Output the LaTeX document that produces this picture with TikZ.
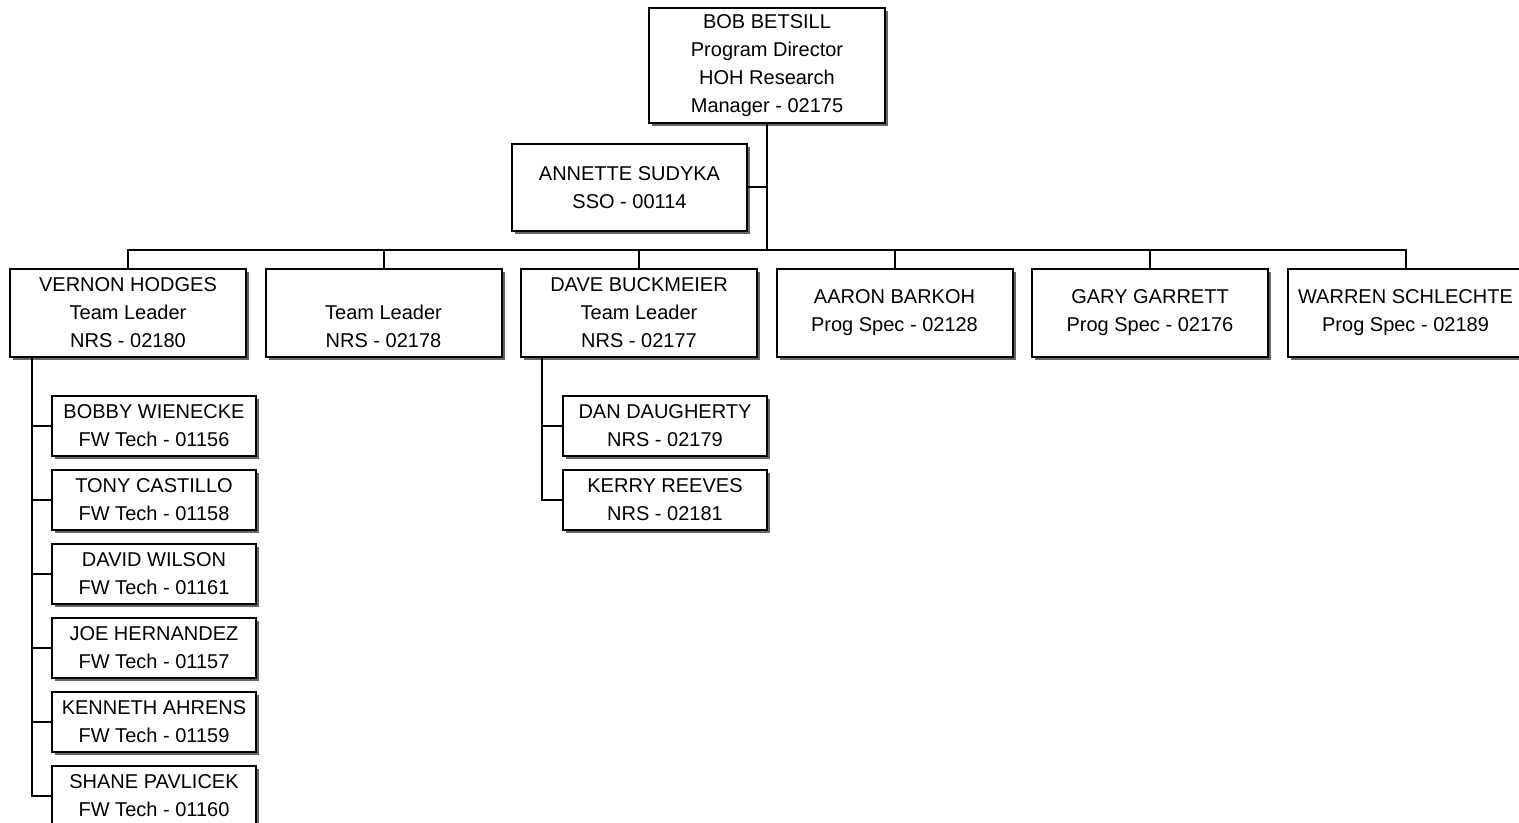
\documentclass[tikz,border=0pt]{standalone}
\usepackage{fontspec}
\setmainfont{Liberation Sans}
\usetikzlibrary{positioning, shadows}
\tikzset{
    person/.style={
           rectangle,
           draw=black, line width=1pt,
           fill=white,
           drop shadow={shadow xshift=1.5pt, shadow yshift=-1.5pt, fill=black!60, opacity=1},
           minimum width=118pt,
           minimum height=44pt,
           inner sep=2pt,
           align=center,
           font=\fontsize{10}{14}\selectfont,
           },
    staff/.style={person, minimum width=102pt, minimum height=30pt},
}

\begin{document}
\begin{tikzpicture}[x=0.5pt, y=-0.5pt, node distance=127.75pt, line width=1pt]
  \useasboundingbox (0,0) rectangle (1519,823);

  \node[person, minimum height=57.5pt]                       (Betsill)  at (767,65.5)  {BOB BETSILL\\Program Director\\HOH Research\\Manager - 02175};
  \node[person, minimum width=117.5pt, minimum height=43.5pt] (Sudyka)   at (629.5,187.5) {ANNETTE SUDYKA\\SSO - 00114};

  \node[person]                                              (Hodges)   at (128,313)   {VERNON HODGES\\Team Leader\\NRS - 02180};
  \node[person, right of=Hodges]                             (Vacant)   {\vphantom{V}\\Team Leader\\NRS - 02178};
  \node[person, right of=Vacant]                             (Buckmeier) {DAVE BUCKMEIER\\Team Leader\\NRS - 02177};
  \node[person, right of=Buckmeier]                          (Barkoh)   {AARON BARKOH\\Prog Spec - 02128};
  \node[person, right of=Barkoh]                             (Garrett)  {GARY GARRETT\\Prog Spec - 02176};
  \node[person, right of=Garrett]                            (Schlechte) {WARREN SCHLECHTE\\Prog Spec - 02189};

  \begin{scope}[node distance=37pt]
    \node[staff, below of=Hodges, xshift=13pt, node distance=56.5pt] (Wienecke) {BOBBY WIENECKE\\FW Tech - 01156};
    \node[staff, below of=Wienecke]                          (Castillo) {TONY CASTILLO\\FW Tech - 01158};
    \node[staff, below of=Castillo]                          (Wilson)   {DAVID WILSON\\FW Tech - 01161};
    \node[staff, below of=Wilson]                            (Hernandez) {JOE HERNANDEZ\\FW Tech - 01157};
    \node[staff, below of=Hernandez]                         (Ahrens)   {KENNETH AHRENS\\FW Tech - 01159};
    \node[staff, below of=Ahrens]                            (Pavlicek) {SHANE PAVLICEK\\FW Tech - 01160};

    \node[staff, below of=Buckmeier, xshift=13pt, node distance=56.5pt] (Daugherty) {DAN DAUGHERTY\\NRS - 02179};
    \node[staff, below of=Daugherty]                         (Reeves)   {KERRY REEVES\\NRS - 02181};
  \end{scope}

  \coordinate (bus) at (767,250);

  \draw (Betsill.south) -- (bus);
  \draw (Sudyka.east) -- (Sudyka.east -| Betsill.south);
  \foreach \n in {Hodges, Vacant, Buckmeier, Barkoh, Garrett, Schlechte}
    \draw (bus) -| (\n.north);

  \foreach \n in {Wienecke, Castillo, Wilson, Hernandez, Ahrens, Pavlicek}
    \draw ([xshift=11.5pt]Hodges.south west) |- (\n.west);
  \foreach \n in {Daugherty, Reeves}
    \draw ([xshift=11pt]Buckmeier.south west) |- (\n.west);

\end{tikzpicture}
\end{document}
